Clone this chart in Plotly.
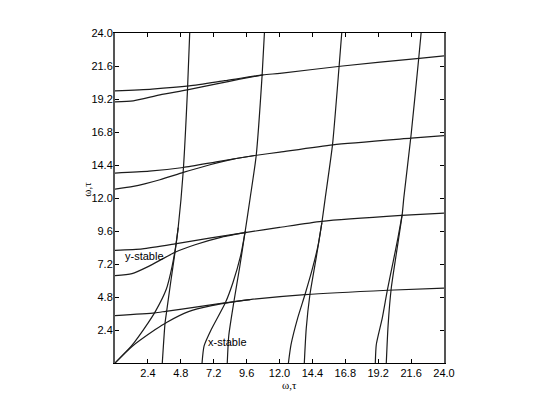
import plotly.graph_objects as go

# Tick labels
tick_vals = [2.4, 4.8, 7.2, 9.6, 12.0, 14.4, 16.8, 19.2, 21.6, 24.0]
tick_text = ["2.4", "4.8", "7.2", "9.6", "12.0", "14.4", "16.8", "19.2", "21.6", "24.0"]

# y-stable family (nearly horizontal curves): pairs of upper / lower branches
u1_x = [0, 2.9, 3.7, 6.0, 8.0, 9.85, 13.86, 19.9, 24]
u1_y = [3.45, 3.65, 3.76, 4.08, 4.37, 4.61, 4.97, 5.29, 5.45]
l1_x = [0, 1.24, 2.94, 3.79, 5.36, 7.05, 8.5, 9.85]
l1_y = [0, 1.2, 2.43, 2.97, 3.74, 4.17, 4.43, 4.61]

u2_x = [0, 2.0, 4.38, 7.0, 9.6, 12.0, 15.08, 20.9, 24]
u2_y = [8.19, 8.3, 8.66, 9.1, 9.5, 9.86, 10.3, 10.73, 10.9]
l2_x = [0, 1.24, 2.45, 4.38, 5.84, 7.79, 9.6]
l2_y = [6.35, 6.5, 7.03, 8.05, 8.6, 9.16, 9.5]

u3_x = [0, 2.5, 4.98, 7.5, 10.2, 12.03, 15.9, 21.6, 24]
u3_y = [13.81, 13.95, 14.22, 14.65, 15.09, 15.34, 15.87, 16.35, 16.54]
l3_x = [0, 1.33, 3.28, 4.98, 6.93, 8.63, 10.2]
l3_y = [12.65, 12.84, 13.33, 13.86, 14.42, 14.83, 15.09]

u4_x = [0, 2.7, 5.42, 8.0, 10.8, 12.03, 16.6, 22.2, 24]
u4_y = [19.79, 19.92, 20.15, 20.53, 20.95, 21.07, 21.6, 22.16, 22.33]
l4_x = [0, 1.33, 3.28, 5.27, 7.41, 9.1, 10.8]
l4_y = [18.99, 19.06, 19.5, 19.86, 20.3, 20.64, 20.95]

y_stable_curves = [(u1_x, u1_y), (l1_x, l1_y), (u2_x, u2_y), (l2_x, l2_y),
                   (u3_x, u3_y), (l3_x, l3_y), (u4_x, u4_y), (l4_x, l4_y)]

LINE = "#1c1c1c"
fig = go.Figure()
# y-stable family
for cx, cy in y_stable_curves:
    fig.add_trace(go.Scatter(x=cx, y=cy, mode="lines",
                             line=dict(color=LINE, width=1.2, shape="spline", smoothing=0.6),
                             showlegend=False, hoverinfo="skip"))
# x-stable family (mirror image about the diagonal: omega_x <-> omega_y)
for cx, cy in y_stable_curves:
    fig.add_trace(go.Scatter(x=cy, y=cx, mode="lines",
                             line=dict(color=LINE, width=1.2, shape="spline", smoothing=0.6),
                             showlegend=False, hoverinfo="skip"))

fig.add_annotation(x=0.6, y=7.81, text="y-stable", showarrow=False, xanchor="left",
                   font=dict(family="Liberation Sans, Arial", size=11, color="black"))
fig.add_annotation(x=6.64, y=1.56, text="x-stable", showarrow=False, xanchor="left",
                   font=dict(family="Liberation Sans, Arial", size=11, color="black"))

# axis titles
fig.add_annotation(xref="paper", yref="paper", x=0.529, y=-0.068, text="ω,τ", showarrow=False,
                   xanchor="center", yanchor="middle",
                   font=dict(family="Liberation Serif, DejaVu Serif", size=11, color="black"))
fig.add_annotation(xref="paper", yref="paper", x=-0.085, y=0.525, text="ω,τ", showarrow=False,
                   xanchor="center", yanchor="middle", textangle=-90,
                   font=dict(family="Liberation Serif, DejaVu Serif", size=11, color="black"))

axis_common = dict(range=[0, 24], tickvals=tick_vals, ticktext=tick_text, ticks="inside",
                   ticklen=4, tickcolor="black", showgrid=False, zeroline=False, showline=True,
                   mirror="ticks", tickfont=dict(family="Liberation Sans, Arial", size=11, color="black"))
fig.update_xaxes(**axis_common, linecolor="black", linewidth=1)
fig.update_yaxes(**axis_common, linecolor="#555555", linewidth=2, ticklabelstandoff=-2)

fig.update_layout(width=545, height=408, margin=dict(l=107, r=109, t=25, b=53),
                  paper_bgcolor="white", plot_bgcolor="white")

fig.write_html("out.html")
